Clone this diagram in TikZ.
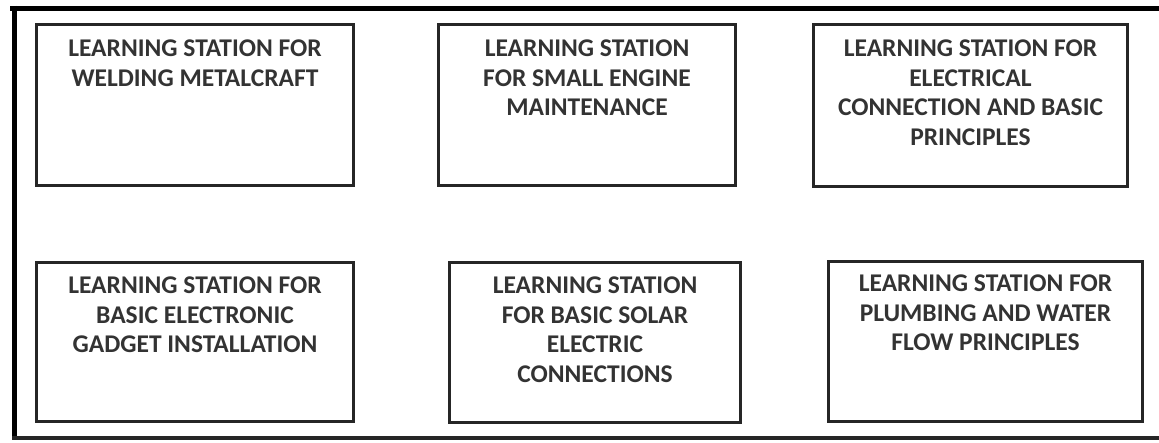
\documentclass[tikz,border=0pt]{standalone}
\usepackage{fontspec}
\setmainfont{Carlito}
\definecolor{ink}{HTML}{262626}
\definecolor{txt}{HTML}{333333}
\tikzset{
  stationbox/.style={draw=ink, line width=3.3pt, rectangle, inner sep=0pt, fill=white},
  stationtext/.style={anchor=north, align=center, inner sep=0pt, text=txt,
    font={\fontsize{25.5}{29.5}\selectfont\bfseries}},
  frameline/.style={draw=black, line cap=butt}
}
\begin{document}
\begin{tikzpicture}[x=1pt,y=-1pt]
\useasboundingbox (0,0) rectangle (1159,443);
\fill[white] (0,0) rectangle (1159,443);
% outer frame
\draw[frameline, line width=5pt] (10,8.5) -- (1159,8.5);
\draw[frameline, line width=4.5pt] (14.5,6) -- (14.5,440);
\draw[frameline, line width=4pt, draw=ink] (12,437.5) -- (1159,437.5);
% boxes
\node[stationbox, minimum width=317pt, minimum height=161pt] (b1) at (195,105) {};
\node[stationbox, minimum width=297pt, minimum height=161pt] (b2) at (587,105) {};
\node[stationbox, minimum width=314pt, minimum height=162pt] (b3) at (970.5,105.5) {};
\node[stationbox, minimum width=317pt, minimum height=159pt] (b4) at (195,342) {};
\node[stationbox, minimum width=291pt, minimum height=160pt] (b5) at (595,342.5) {};
\node[stationbox, minimum width=314pt, minimum height=160pt] (b6) at (985.5,341.5) {};
% texts
\node[stationtext] (t1) at ([yshift=-17pt]b1.north) {LEARNING STATION FOR\\WELDING METALCRAFT};
\node[stationtext] (t2) at ([yshift=-17pt]b2.north) {LEARNING STATION\\FOR SMALL ENGINE\\MAINTENANCE};
\node[stationtext] (t3) at ([yshift=-17pt]b3.north) {LEARNING STATION FOR\\ELECTRICAL\\CONNECTION AND BASIC\\PRINCIPLES};
\node[stationtext] (t4) at ([yshift=-16pt]b4.north) {LEARNING STATION FOR\\BASIC ELECTRONIC\\GADGET INSTALLATION};
\node[stationtext] (t5) at ([yshift=-16pt]b5.north) {LEARNING STATION\\FOR BASIC SOLAR\\ELECTRIC\\CONNECTIONS};
\node[stationtext] (t6) at ([yshift=-15pt]b6.north) {LEARNING STATION FOR\\PLUMBING AND WATER\\FLOW PRINCIPLES};
\end{tikzpicture}
\end{document}
